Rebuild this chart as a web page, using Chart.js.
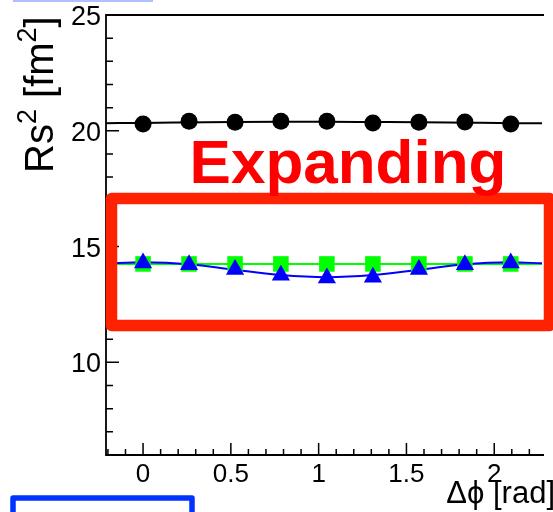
<!DOCTYPE html>
<html>
<head>
<meta charset="utf-8">
<script src="https://cdn.jsdelivr.net/npm/chart.js@4.4.0/dist/chart.umd.min.js"></script>
<style>
  html, body { margin: 0; padding: 0; background: #fff; }
  canvas { display: block; }
</style>
</head>
<body>
<canvas id="rsChart" width="553" height="512"></canvas>
<script>
// delta phi bins (rad)
const dphi = [0, 0.262, 0.524, 0.785, 1.047, 1.309, 1.571, 1.833, 2.094];
// Rs^2 values
const rsBlack = [20.29, 20.41, 20.37, 20.41, 20.41, 20.34, 20.37, 20.38, 20.29];
const rsGreen = [14.25, 14.25, 14.25, 14.25, 14.25, 14.25, 14.25, 14.25, 14.25];
const rsBlue = [14.29, 14.21, 14.01, 13.76, 13.64, 13.68, 14.01, 14.21, 14.29];

// fit curves
const fitX = [-0.211, 0, 0.262, 0.524, 0.785, 1.047, 1.309, 1.571, 1.833, 2.094, 2.272];
const fitBlack = [20.33, 20.34, 20.36, 20.38, 20.39, 20.39, 20.38, 20.37, 20.35, 20.33, 20.33];
const fitGreen = [14.25, 14.25, 14.25, 14.25, 14.25, 14.25, 14.25, 14.25, 14.25, 14.25, 14.25];
const fitBlue = [14.27, 14.32, 14.24, 14.00, 13.77, 13.68, 13.77, 14.00, 14.24, 14.32, 14.28];

// axis ticks
const xMajorTicks = [0, 0.5, 1, 1.5, 2];
const xTickLabels = ['0', '0.5', '1', '1.5', '2'];
const yMajorTicks = [10, 15, 20, 25];
const yTickLabels = ['10', '15', '20', '25'];

const xMin = -0.211, xMax = 2.272;
const yMin = 6, yMax = 25;

function pts(xs, ys) {
    return xs.map(function (x, i) { return { x: x, y: ys[i] }; });
}

const FONT = '"Liberation Sans", Arial, Helvetica, sans-serif';

// ROOT-like frame, inward ticks, labels and the drawn-on annotations
const rootFrame = {
    id: 'rootFrame',
    afterDraw: function (chart) {
        const ctx = chart.ctx;
        const xs = chart.scales.x, ys = chart.scales.y;
        const a = chart.chartArea;

        ctx.save();
        ctx.strokeStyle = '#000';
        ctx.lineWidth = 1.8;
        ctx.beginPath();
        ctx.moveTo(a.right + 2, a.top);
        ctx.lineTo(a.left, a.top);
        ctx.lineTo(a.left, a.bottom);
        ctx.lineTo(a.right + 2, a.bottom);
        ctx.stroke();

        // x ticks (major 0.5, minor 0.1)
        ctx.lineWidth = 1.5;
        ctx.beginPath();
        for (let i = -2; i <= 22; i++) {
            const v = i / 10;
            const px = xs.getPixelForValue(v);
            const len = (i % 5 === 0) ? 12 : 6;
            ctx.moveTo(px, a.bottom);
            ctx.lineTo(px, a.bottom - len);
        }
        // y ticks (major 5, minor 1)
        for (let v = 7; v <= 24; v++) {
            const py = ys.getPixelForValue(v);
            const len = (v % 5 === 0) ? 13 : 7;
            ctx.moveTo(a.left, py);
            ctx.lineTo(a.left + len, py);
        }
        ctx.stroke();

        // tick labels
        ctx.fillStyle = '#000';
        ctx.font = '26px ' + FONT;
        ctx.textAlign = 'center';
        ctx.textBaseline = 'alphabetic';
        xMajorTicks.forEach(function (v, i) {
            ctx.fillText(xTickLabels[i], xs.getPixelForValue(v), 482);
        });
        ctx.font = '27px ' + FONT;
        ctx.textAlign = 'right';
        yMajorTicks.forEach(function (v, i) {
            ctx.fillText(yTickLabels[i], 101, ys.getPixelForValue(v) + 10);
        });

        // x title, right aligned
        ctx.font = '31px ' + FONT;
        ctx.textAlign = 'right';
        ctx.fillText('\u0394\u03d5 [rad]', 555, 503);

        // y title with superscripts
        ctx.save();
        ctx.translate(53, 173);
        ctx.rotate(-Math.PI / 2);
        ctx.textAlign = 'left';
        let cx = 0;
        const parts = [
            ['Rs', 40, 0], ['2', 27, -17], [' [fm', 40, 0], ['2', 27, -17], [']', 40, 0]
        ];
        parts.forEach(function (p) {
            ctx.font = p[1] + 'px ' + FONT;
            ctx.fillText(p[0], cx, p[2]);
            cx += ctx.measureText(p[0]).width;
        });
        ctx.restore();

        // red box
        ctx.strokeStyle = '#ff2200';
        ctx.lineWidth = 11.5;
        ctx.lineJoin = 'round';
        ctx.strokeRect(111.5, 198.5, 438, 127);

        // "Expanding"
        ctx.fillStyle = '#ff0000';
        ctx.font = 'bold 62px ' + FONT;
        ctx.textAlign = 'center';
        ctx.fillText('Expanding', 348, 183);

        // blue box at the bottom left
        ctx.strokeStyle = '#0033ff';
        ctx.lineWidth = 5.5;
        ctx.strokeRect(13, 498, 179, 40);

        // light blue edge at the top
        ctx.fillStyle = '#b0c0ff';
        ctx.fillRect(13, 0, 140, 2);
        ctx.restore();
    }
};

const config = {
    type: 'scatter',
    data: {
        datasets: [
            {
                label: 'blue markers',
                data: pts(dphi, rsBlue),
                pointStyle: 'triangle',
                pointRadius: 10.5,
                backgroundColor: '#0000ff',
                borderColor: '#0000ff',
                borderWidth: 0,
                order: 1
            },
            {
                label: 'green markers',
                data: pts(dphi, rsGreen),
                pointStyle: 'rect',
                pointRadius: 11,
                backgroundColor: '#00ff00',
                borderColor: '#00ff00',
                borderWidth: 0,
                order: 2
            },
            {
                label: 'black markers',
                data: pts(dphi, rsBlack),
                pointStyle: 'circle',
                pointRadius: 8.5,
                backgroundColor: '#000',
                borderColor: '#000',
                borderWidth: 0,
                order: 3
            },
            {
                label: 'blue fit',
                data: pts(fitX, fitBlue),
                showLine: true,
                pointRadius: 0,
                borderColor: '#0000ff',
                borderWidth: 2,
                cubicInterpolationMode: 'monotone',
                order: 4
            },
            {
                label: 'green fit',
                data: pts(fitX, fitGreen),
                showLine: true,
                pointRadius: 0,
                borderColor: '#00ff00',
                borderWidth: 2,
                order: 5
            },
            {
                label: 'black fit',
                data: pts(fitX, fitBlack),
                showLine: true,
                pointRadius: 0,
                borderColor: '#000',
                borderWidth: 2,
                cubicInterpolationMode: 'monotone',
                order: 6
            }
        ]
    },
    options: {
        responsive: false,
        animation: false,
        layout: {
            padding: { left: 106, top: 15, right: 0, bottom: 57 }
        },
        scales: {
            x: { type: 'linear', min: xMin, max: xMax, display: false },
            y: { type: 'linear', min: yMin, max: yMax, display: false }
        },
        plugins: {
            legend: { display: false },
            tooltip: { enabled: false }
        }
    },
    plugins: [rootFrame]
};

new Chart(document.getElementById('rsChart'), config);
</script>
</body>
</html>
